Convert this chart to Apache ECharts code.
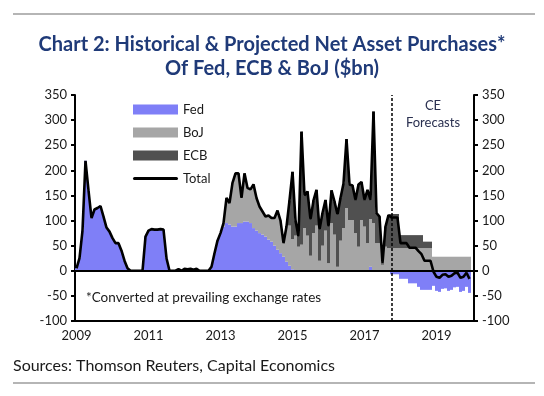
<!DOCTYPE html>
<html>
<head>
<meta charset="utf-8">
<script src="https://cdn.jsdelivr.net/npm/echarts@6/dist/echarts.min.js"></script>
<style>
  html, body { margin: 0; padding: 0; background: #fff; }
  #chart { width: 544px; height: 396px; }
</style>
</head>
<body>
<div id="chart"></div>
<script>
// monthly data, Jan 2009 - Dec 2019 (forecast from Oct 2017)
const years = [2009, 2010, 2011, 2012, 2013, 2014, 2015, 2016, 2017, 2018, 2019];
const axisEnd = '2020-1';
const forecastStart = '2017-10';

const fed = [
  5, 25, 80, 219, 160, 105, 122, 125, 129, 108, 86, 78,         // 2009
  65, 55, 55, 40, 20, 5, 0, 0, 0, 0, 0, 68,                     // 2010
  80, 83, 82, 82, 83, 82, 25, 0, 0, 0, 3, 0,                    // 2011
  4, 3, 4, 2, 4, 0, 0, 0, 0, 8, 35, 60,                         // 2012
  75, 88, 95, 92, 88, 88, 95, 95, 98, 98, 95, 85,               // 2013
  80, 75, 72, 68, 62, 58, 50, 42, 35, 28, 18, 10,               // 2014
  3, 0, 0, 0, 0, 0, 0, 0, 0, 0, 0, 0,                           // 2015
  0, 0, 0, 0, 0, 0, 0, 0, 0, 0, 0, 0,                           // 2016
  0, 0, 8, 0, 0, 0, 0, 0, 0, -7, -7, -7,                        // 2017
  -16, -16, -16, -25, -25, -25, -32, -38, -38, -38, -38, -30,   // 2018
  -40, -42, -36, -35, -40, -38, -33, -32, -42, -40, -32, -44    // 2019
];

const boj = [
  0, 0, 0, 0, 0, 0, 0, 0, 0, 0, 0, 0,
  0, 0, 0, 0, 0, 0, 0, 0, 0, 0, 0, 0,
  0, 0, 0, 0, 0, 0, 0, 0, 0, 0, 0, 0,
  0, 0, 0, 0, 0, 0, 0, 0, 0, 0, 0, 0,
  0, 7, 50, 43, 87, 106, 99, 50, 96, 67, 67, 87,
  65, 53, 46, 40, 48, 47, 55, 78, 65, 27, 70, 80,
  60, 70, 48, 52, 85, 70, 30, 75, 90, 20, 50, 80,
  15, 95, 72, 8, 60, 85, 125, 101, 101, 75, 48, 101,
  88, 55, 95, 95, 55, 55, 12, 48, 45, 45, 45, 45,
  45, 45, 45, 45, 45, 45, 45, 45, 45, 45, 45, 28,
  28, 28, 28, 28, 28, 28, 28, 28, 28, 28, 28, 28
];

const ecb = [
  0, 0, 0, 0, 0, 0, 0, 0, 0, 0, 0, 0,
  0, 0, 0, 0, 0, 0, 0, 0, 0, 0, 0, 0,
  0, 0, 0, 0, 0, 0, 0, 0, 0, 0, 0, 0,
  0, 0, 0, 0, 0, 0, 0, 0, 0, 0, 0, 0,
  0, 0, 0, 0, 0, 0, 0, 0, 0, 0, 0, 0,
  0, 0, 0, 0, 0, 0, 0, 0, 0, 0, 0, 50,
  134, 30, 20, 225, 65, 88, 72, 65, 71, 62, 65, 61,
  73, 65, 66, 104, 85, 89, 137, 71, 69, 66, 124, 76,
  53, 106, 38, 222, 60, 53, 3, 40, 66, 68, 68, 68,
  26, 26, 26, 26, 26, 26, 26, 26, 13, 13, 13, 0,
  0, 0, 0, 0, 0, 0, 0, 0, 0, 0, 0, 0
];

const months = [];
years.forEach(y => { for (let m = 1; m <= 12; m++) months.push(y + '-' + m); });
months.push(axisEnd);
const total = fed.map((v, i) => v + boj[i] + ecb[i]);

const font = 'Lato';
const chart = echarts.init(document.getElementById('chart'));

const yAxisBase = {
  type: 'value',
  min: -100,
  max: 350,
  interval: 50,
  splitLine: { show: false },
  axisLine: { show: true, lineStyle: { color: '#000', width: 2 } },
  axisTick: { show: true, length: 4, lineStyle: { color: '#000', width: 2 } },
  axisLabel: { color: '#1a1a1a', fontSize: 13, fontFamily: font, margin: 8 }
};

chart.setOption({
  animation: false,
  title: {
    text: 'Chart 2: Historical & Projected Net Asset Purchases*\nOf Fed, ECB & BoJ ($bn)',
    left: 'center',
    top: 28,
    textStyle: { color: '#1f3a78', fontSize: 20, fontWeight: 'bold', fontFamily: font, lineHeight: 24 }
  },
  // 133 bands of exactly 3px so the monthly bars meet without seams
  grid: { left: 75, right: 70, top: 95, bottom: 75 },
  legend: {
    orient: 'vertical',
    left: 128,
    top: 98,
    itemWidth: 45,
    itemHeight: 10,
    itemGap: 10,
    textStyle: { color: '#1a1a1a', fontSize: 13, fontFamily: font },
    data: [
      { name: 'Fed', icon: 'rect' },
      { name: 'BoJ', icon: 'rect' },
      { name: 'ECB', icon: 'rect' },
      { name: 'Total', icon: 'path://M1.5,0 L43.5,0 A1.5,1.5 0 0 1 43.5,3 L1.5,3 A1.5,1.5 0 0 1 1.5,0 Z' }
    ]
  },
  xAxis: {
    type: 'category',
    data: months,
    boundaryGap: true,
    axisLine: { onZero: false, lineStyle: { color: '#000', width: 2 } },
    axisTick: { interval: i => i % 12 === 0, length: 4, lineStyle: { color: '#000', width: 2 } },
    axisLabel: {
      interval: i => i % 24 === 0 && i < 132,
      formatter: v => v.slice(0, 4),
      color: '#1a1a1a', fontSize: 13, fontFamily: font, margin: 8
    },
    splitLine: { show: false }
  },
  yAxis: [
    Object.assign({}, yAxisBase, { position: 'left' }),
    Object.assign({}, yAxisBase, { position: 'right' })
  ],
  series: [
    { name: 'Fed', type: 'bar', stack: 'qe', data: fed, barCategoryGap: '0%', itemStyle: { color: '#7f7ff7' } },
    { name: 'BoJ', type: 'bar', stack: 'qe', data: boj, barCategoryGap: '0%', itemStyle: { color: '#a6a6a6' } },
    { name: 'ECB', type: 'bar', stack: 'qe', data: ecb, barCategoryGap: '0%', itemStyle: { color: '#505050' } },
    {
      name: 'Total', type: 'line', data: total, symbol: 'none', z: 5,
      lineStyle: { color: '#000', width: 2.6 }, itemStyle: { color: '#000' },
      markLine: {
        silent: true, symbol: 'none', label: { show: false },
        data: [
          { yAxis: 0, lineStyle: { color: '#000', width: 2, type: 'solid' } },
          { xAxis: forecastStart, lineStyle: { color: '#000', width: 1.5, type: [3, 2] } }
        ]
      }
    }
  ],
  graphic: [
    { type: 'rect', left: 13, top: 13, shape: { width: 522, height: 2 }, style: { fill: '#b5b5b5' } },
    { type: 'rect', left: 13, top: 382, shape: { width: 522, height: 2 }, style: { fill: '#b5b5b5' } },
    { type: 'text', left: 13, top: 358, style: { text: 'Sources: Thomson Reuters, Capital Economics', fill: '#1a1a1a', font: '16px Lato' } },
    { type: 'text', left: 86, top: 291, style: { text: '*Converted at prevailing exchange rates', fill: '#1a1a1a', font: '13.5px Lato' } },
    { type: 'text', x: 433, y: 97, style: { text: 'CE\nForecasts', fill: '#2a3050', font: '13px Lato', align: 'center', lineHeight: 17 } }
  ]
});
</script>
</body>
</html>
